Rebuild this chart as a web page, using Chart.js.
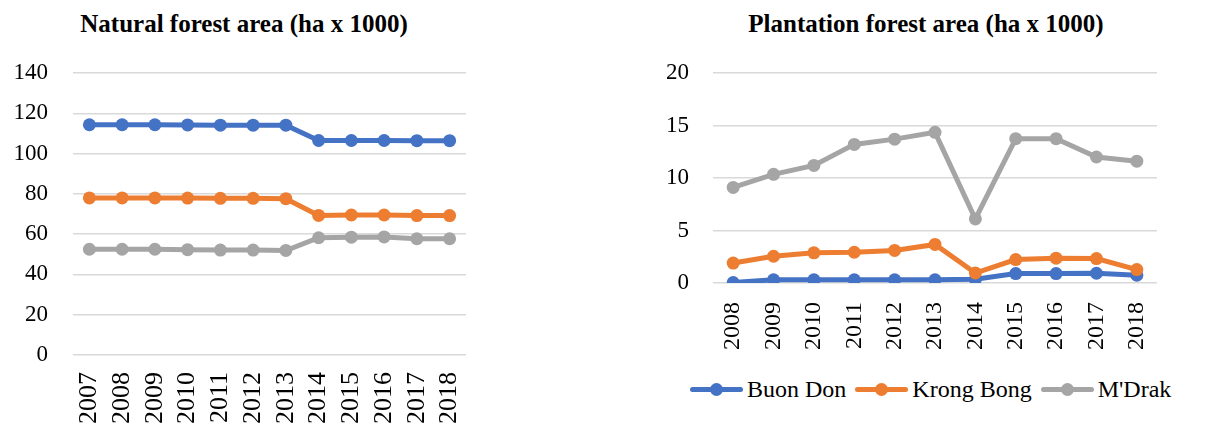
<!DOCTYPE html>
<html>
<head>
<meta charset="utf-8">
<script src="https://cdn.jsdelivr.net/npm/chart.js@4.4.0/dist/chart.umd.min.js"></script>
<style>
  body { margin: 0; background: #fff; width: 1209px; height: 424px; overflow: hidden; position: relative; font-family: 'Liberation Serif', serif; }
  #natBox { position: absolute; left: 0; top: 0; width: 489px; height: 424px; }
  #plaBox { position: absolute; left: 640px; top: 0; width: 569px; height: 362px; }
  .ttl { position: absolute; top: 11px; font-size: 25px; line-height: 1; font-weight: bold; color: #000; text-align: center; white-space: nowrap; }
  #natTitle { left: 44px; width: 400px; }
  #plaTitle { left: 726px; width: 400px; }
  #legend { position: absolute; left: 690px; top: 374px; height: 30px; display: flex; align-items: center; font-size: 24px; color: #000; white-space: nowrap; }
  .lg-item { display: flex; align-items: center; margin-right: 9px; }
  .lg-sym { position: relative; width: 53px; height: 5px; border-radius: 3px; margin-right: 4px; }
  .lg-sym::after { content: ''; position: absolute; left: 20px; top: -4px; width: 13px; height: 13px; border-radius: 50%; background: inherit; }
</style>
</head>
<body>
<div id="natTitle" class="ttl">Natural forest area (ha x 1000)</div>
<div id="plaTitle" class="ttl">Plantation forest area (ha x 1000)</div>
<div id="natBox"><canvas id="chart-nat"></canvas></div>
<div id="plaBox"><canvas id="chart-pla"></canvas></div>
<div id="legend"></div>
<script>
// ===== forest area, Buon Don / Krong Bong / M'Drak =====
const seriesNames = ['Buon Don', 'Krong Bong', "M'Drak"];
const seriesColors = ['#4472C4', '#ED7D31', '#A5A5A5'];

const natYears = ['2007','2008','2009','2010','2011','2012','2013','2014','2015','2016','2017','2018'];
const natBuonDon   = [114.3, 114.3, 114.3, 114.2, 114.1, 114.1, 114.1, 106.5, 106.5, 106.5, 106.4, 106.4];
const natKrongBong = [78.0, 78.0, 78.0, 77.9, 77.8, 77.8, 77.6, 69.3, 69.5, 69.5, 69.2, 69.2];
const natMDrak     = [52.5, 52.5, 52.5, 52.3, 52.1, 52.1, 51.9, 58.2, 58.5, 58.6, 57.7, 57.7];

const plaYears = ['2008','2009','2010','2011','2012','2013','2014','2015','2016','2017','2018'];
const plaBuonDon   = [0.05, 0.3, 0.3, 0.3, 0.3, 0.3, 0.35, 0.9, 0.9, 0.93, 0.74];
const plaKrongBong = [1.9, 2.55, 2.87, 2.93, 3.1, 3.67, 0.95, 2.23, 2.36, 2.33, 1.28];
const plaMDrak     = [9.1, 10.35, 11.2, 13.2, 13.7, 14.35, 6.1, 13.75, 13.75, 12.0, 11.6];

const FONT = "'Liberation Serif', serif";

function mkDatasets(arrs) {
  return arrs.map((d, i) => ({
    label: seriesNames[i], data: d,
    borderColor: seriesColors[i], backgroundColor: seriesColors[i],
    borderWidth: 5, pointRadius: 6.5, pointBorderWidth: 0, pointHoverRadius: 6.5,
    tension: 0, order: 3 - i
  }));
}

// o: yMax, yStep, padR (layout), axisW (y), axisH (x), xFont, xPad, yPad
function mkOptions(o) {
  return {
    responsive: true, maintainAspectRatio: false, animation: false,
    layout: { padding: { left: 0, right: o.padR, top: 73, bottom: 0 } },
    plugins: {
      legend: { display: false },
      tooltip: { enabled: false },
      title: { display: false }
    },
    scales: {
      x: {
        offset: true,
        grid: { display: false, drawTicks: false },
        border: { display: false },
        ticks: { color: '#000', font: { family: FONT, size: o.xFont }, minRotation: 90, maxRotation: 90,
          autoSkip: false, padding: o.xPad },
        afterFit: s => { s.height = o.axisH; s.paddingLeft = 0; s.paddingRight = 0; }
      },
      y: {
        min: 0, max: o.yMax,
        grid: { color: '#D9D9D9', lineWidth: 1.5, drawTicks: false },
        border: { display: false },
        ticks: { color: '#000', font: { family: FONT, size: 23 }, stepSize: o.yStep, padding: o.yPad },
        afterFit: s => { s.width = o.axisW; s.paddingTop = 0; }
      }
    }
  };
}

new Chart(document.getElementById('chart-nat'), {
  type: 'line',
  data: { labels: natYears, datasets: mkDatasets([natBuonDon, natKrongBong, natMDrak]) },
  options: mkOptions({ yMax: 140, yStep: 20, padR: 23, axisW: 73, axisH: 69, xFont: 26, xPad: 17, yPad: 25 })
});

new Chart(document.getElementById('chart-pla'), {
  type: 'line',
  data: { labels: plaYears, datasets: mkDatasets([plaBuonDon, plaKrongBong, plaMDrak]) },
  options: mkOptions({ yMax: 20, yStep: 5, padR: 52, axisW: 73, axisH: 79, xFont: 24, xPad: 19, yPad: 24 })
});

document.getElementById('legend').innerHTML = seriesNames.map((n, i) => `
  <div class="lg-item">
    <div class="lg-sym" style="background:${seriesColors[i]};"></div>
    <span>${n}</span>
  </div>`).join('');
</script>
</body>
</html>
